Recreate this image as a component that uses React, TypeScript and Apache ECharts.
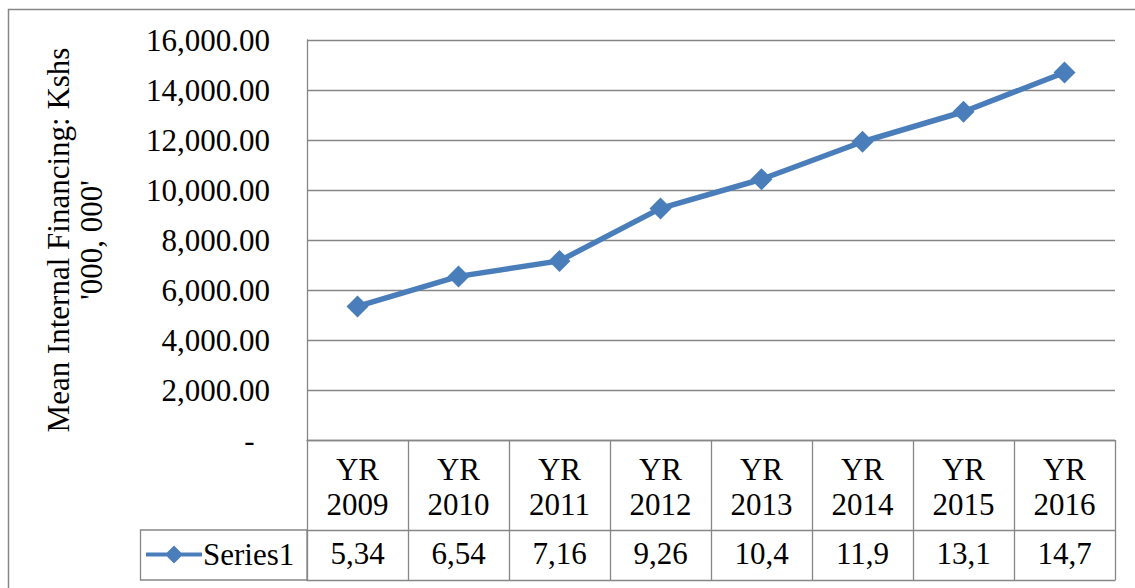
import React, { useEffect, useRef } from "react";
import * as echarts from "echarts";

const categories = ["2009", "2010", "2011", "2012", "2013", "2014", "2015", "2016"];
const seriesName = "Series1";
const values = [5345, 6545, 7165, 9265, 10430, 11930, 13130, 14700];
const yMin = 0;
const yMax = 16000;
const yInterval = 2000;
const yAxisTitle = "Mean Internal Financing: Kshs\n'000, 000'";

// Data table cells show values clipped to four characters, as in the source
const tableLabels = values.map((v) => v.toLocaleString("en-US").slice(0, 4));

const FONT = "'Liberation Serif', 'Times New Roman', serif";
const FS = 31;
const GRAY = "#868686";
const BLUE = "#4A7EBB";
const LEGEND_ICON =
  "path://M0,7 L21,7 L28,0 L35,7 L56,7 L56,11 L35,11 L28,18 L21,11 L0,11 Z";

export default function App() {
  const ref = useRef<HTMLDivElement>(null);

  useEffect(() => {
    if (!ref.current) return;
    const chart = echarts.init(ref.current, null, { renderer: "svg" });
    chart.setOption({
      animation: false,
      backgroundColor: "#ffffff",
      textStyle: { fontFamily: FONT },
      grid: { left: 307, right: 20, top: 40, bottom: 148, containLabel: false },
      legend: {
        show: true,
        left: 146,
        top: 539,
        padding: 0,
        itemWidth: 56,
        itemHeight: 18,
        itemGap: 0,
        icon: LEGEND_ICON,
        textStyle: { fontFamily: FONT, fontSize: FS, color: "#000", lineHeight: 30, padding: [0, 0, 0, -4] },
        data: [seriesName],
      },
      xAxis: [
        {
          type: "category",
          data: categories,
          boundaryGap: true,
          axisLine: { show: true, onZero: false, lineStyle: { color: GRAY, width: 1.3 } },
          axisTick: { show: true, interval: 0, length: 140, lineStyle: { color: GRAY, width: 1.3 } },
          axisLabel: {
            interval: 0,
            margin: 12,
            formatter: (v: string) => "YR\n" + v,
            fontFamily: FONT,
            fontSize: FS,
            lineHeight: 35,
            color: "#000",
          },
          splitLine: { show: false },
        },
        {
          type: "category",
          data: categories,
          position: "bottom",
          offset: 90,
          axisLine: { show: true, onZero: false, lineStyle: { color: GRAY, width: 1.3 } },
          axisTick: { show: false },
          axisLabel: {
            interval: 0,
            margin: 8,
            formatter: (_v: string, i: number) => tableLabels[i],
            fontFamily: FONT,
            fontSize: FS,
            lineHeight: 30,
            color: "#000",
          },
          splitLine: { show: false },
        },
        {
          type: "category",
          data: categories,
          position: "bottom",
          offset: 140,
          axisLine: { show: true, onZero: false, lineStyle: { color: GRAY, width: 1.3 } },
          axisTick: { show: false },
          axisLabel: { show: false },
          splitLine: { show: false },
        },
      ],
      yAxis: {
        type: "value",
        min: yMin,
        max: yMax,
        interval: yInterval,
        name: yAxisTitle,
        nameLocation: "middle",
        nameRotate: 90,
        nameGap: 199,
        nameTextStyle: { fontFamily: FONT, fontSize: FS, lineHeight: 33, color: "#000", align: "center" },
        axisLine: { show: true, lineStyle: { color: GRAY, width: 1.3 } },
        axisTick: { show: false },
        axisLabel: {
          margin: 37,
          fontFamily: FONT,
          fontSize: FS,
          color: "#000",
          formatter: (v: number) =>
            v === 0
              ? "-  "
              : v.toLocaleString("en-US", { minimumFractionDigits: 2, maximumFractionDigits: 2 }),
        },
        splitLine: { show: true, lineStyle: { color: GRAY, width: 1.3 } },
      },
      graphic: [
        {
          type: "rect",
          z: -10,
          shape: { x: 8.5, y: 9.5, width: 1200, height: 700 },
          style: { fill: "none", stroke: GRAY, lineWidth: 1.5 },
          silent: true,
        },
        {
          type: "rect",
          shape: { x: 140.5, y: 530, width: 166.5, height: 50 },
          style: { fill: "none", stroke: GRAY, lineWidth: 1.3 },
          silent: true,
        },
      ],
      series: [
        {
          name: seriesName,
          type: "line",
          xAxisIndex: 0,
          data: values,
          symbol: "diamond",
          symbolSize: 22,
          lineStyle: { color: BLUE, width: 5.5 },
          itemStyle: { color: BLUE },
        },
      ],
    });
    return () => chart.dispose();
  }, []);

  return (
    <div
      ref={ref}
      style={{ position: "fixed", left: 0, top: 0, width: 1135, height: 588, background: "#fff" }}
    />
  );
}
